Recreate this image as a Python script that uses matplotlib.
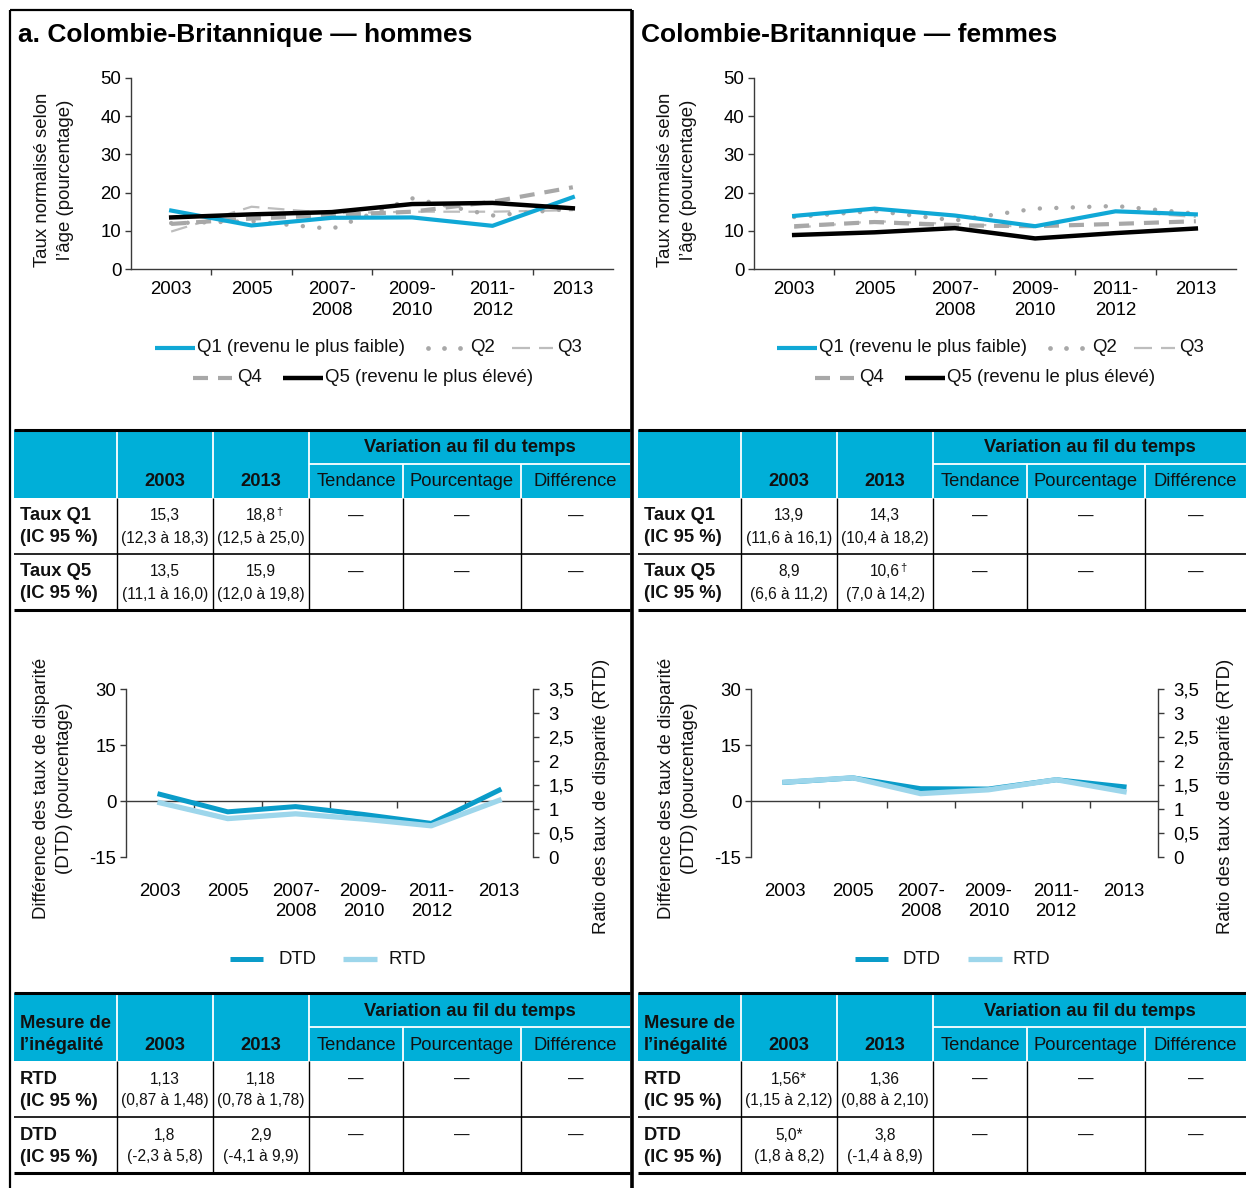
import numpy as np
import matplotlib
matplotlib.use('Agg')
import matplotlib.pyplot as plt
from matplotlib import font_manager
from matplotlib.lines import Line2D
from matplotlib.patches import Rectangle

# ---------------------------------------------------------------- data
periods = ['2003', '2005', '2007-\n2008', '2009-\n2010', '2011-\n2012', '2013']

men_q1 = [15.3, 11.4, 13.4, 13.5, 11.3, 18.8]
men_q2 = [12.0, 12.5, 10.5, 18.5, 14.0, 15.8]
men_q3 = [9.8, 16.3, 14.6, 15.0, 15.0, 15.4]
men_q4 = [11.8, 13.2, 14.1, 15.0, 17.6, 21.4]
men_q5 = [13.5, 14.3, 14.9, 17.0, 17.3, 15.9]

women_q1 = [13.9, 15.8, 14.0, 11.2, 15.1, 14.3]
women_q2 = [13.6, 15.2, 12.7, 15.8, 16.5, 14.5]
women_q3 = [10.8, 12.5, 11.8, 11.0, 15.2, 13.6]
women_q4 = [11.2, 12.3, 11.4, 11.2, 11.8, 12.5]
women_q5 = [8.9, 9.6, 10.7, 8.0, 9.4, 10.6]

men_dtd = [1.8, -2.9, -1.5, -3.6, -6.0, 2.9]
men_rtd = [1.13, 0.80, 0.90, 0.79, 0.65, 1.18]
women_dtd = [5.0, 6.2, 3.3, 3.2, 5.7, 3.8]
women_rtd = [1.56, 1.65, 1.32, 1.40, 1.61, 1.36]

rate_ticks = [0, 10, 20, 30, 40, 50]
dtd_ticks = [-15, 0, 15, 30]
rtd_ticks = [0, 0.5, 1, 1.5, 2, 2.5, 3, 3.5]
rtd_tick_labels = ['0', '0,5', '1', '1,5', '2', '2,5', '3', '3,5']

quintile_labels = ['Q1 (revenu le plus faible)', 'Q2', 'Q3', 'Q4',
                   'Q5 (revenu le plus élevé)']
gap_labels = ['DTD', 'RTD']

rate_rows = ['Taux Q1', 'Taux Q5']
gap_rows = ['RTD', 'DTD']
ci_label = '(IC 95 %)'
years_shown = ['2003', '2013']
change_title = 'Variation au fil du temps'
change_cols = ['Tendance', 'Pourcentage', 'Différence']
no_change = '—'

men_rate_2003 = ['15,3', '13,5']
men_rate_ci_2003 = ['(12,3 à 18,3)', '(11,1 à 16,0)']
men_rate_2013 = ['18,8', '15,9']
men_rate_ci_2013 = ['(12,5 à 25,0)', '(12,0 à 19,8)']
men_rate_flag_2013 = ['†', '']

women_rate_2003 = ['13,9', '8,9']
women_rate_ci_2003 = ['(11,6 à 16,1)', '(6,6 à 11,2)']
women_rate_2013 = ['14,3', '10,6']
women_rate_ci_2013 = ['(10,4 à 18,2)', '(7,0 à 14,2)']
women_rate_flag_2013 = ['', '†']

men_gap_2003 = ['1,13', '1,8']
men_gap_ci_2003 = ['(0,87 à 1,48)', '(-2,3 à 5,8)']
men_gap_2013 = ['1,18', '2,9']
men_gap_ci_2013 = ['(0,78 à 1,78)', '(-4,1 à 9,9)']

women_gap_2003 = ['1,56*', '5,0*']
women_gap_ci_2003 = ['(1,15 à 2,12)', '(1,8 à 8,2)']
women_gap_2013 = ['1,36', '3,8']
women_gap_ci_2013 = ['(0,88 à 2,10)', '(-1,4 à 8,9)']

# ---------------------------------------------------------------- style
W, H = 1246, 1188
plt.rcParams['axes.unicode_minus'] = False
plt.rcParams['font.family'] = ['Liberation Sans', 'DejaVu Sans']

_installed = {f.name for f in font_manager.fontManager.ttflist}
if 'Liberation Sans Narrow' in _installed:
    CHART_FONT = ['Liberation Sans Narrow', 'Liberation Sans', 'DejaVu Sans']
    CHART_SIZE = 16.3
    VALUE_FONT = CHART_FONT
    VALUE_SIZE = 13.4
else:
    CHART_FONT = ['Liberation Sans', 'DejaVu Sans']
    CHART_SIZE = 13.4
    VALUE_FONT = CHART_FONT
    VALUE_SIZE = 11.2
TABLE_FONT = ['Liberation Sans', 'DejaVu Sans']
TABLE_SIZE = 13.2

BLUE = '#10A8D6'
DTD_BLUE = '#0A9CC9'
RTD_BLUE = '#9DD6EB'
HEADER_BLUE = '#00AFD8'
GRAY = '#A8A8A8'
LIGHT_GRAY = '#BDBDBD'
AXIS_COLOR = '#3A3A3A'

fig = plt.figure(figsize=(W / 100, H / 100), dpi=100)


def px_rect(x0, y0, x1, y1):
    return [x0 / W, 1 - y1 / H, (x1 - x0) / W, (y1 - y0) / H]


# full-figure canvas in pixel units for frames, legends and tables
bg = fig.add_axes([0, 0, 1, 1], zorder=-5)
bg.set_xlim(0, W)
bg.set_ylim(H, 0)
bg.axis('off')


def ctext(x, y, s, **kw):
    kw.setdefault('family', CHART_FONT)
    kw.setdefault('fontsize', CHART_SIZE)
    kw.setdefault('color', '#111111')
    return bg.text(x, y, s, **kw)


# ---------------------------------------------------------------- frame
bg.plot([10, 10], [10, H], color='black', lw=1.6, solid_capstyle='butt')
bg.plot([10, 632], [10, 10], color='black', lw=1.6, solid_capstyle='butt')
bg.plot([632, 632], [10, H], color='black', lw=2.6, solid_capstyle='butt')

# ---------------------------------------------------------------- charts


def rate_chart(x0, series, title, title_x):
    q1, q2, q3, q4, q5 = series
    ax = fig.add_axes(px_rect(x0, 78, x0 + 482, 269))
    x = np.arange(len(periods))
    ax.plot(x, q3, color=LIGHT_GRAY, lw=1.6, dashes=(7.5, 3.8), zorder=2)
    ax.plot(x, q2, color=GRAY, lw=3.2, dashes=(0.01, 3.7),
            dash_capstyle='round', zorder=2)
    ax.plot(x, q4, color=GRAY, lw=3.0, dashes=(3.6, 2.4), zorder=2)
    ax.plot(x, q1, color=BLUE, lw=3.0, zorder=3)
    ax.plot(x, q5, color='black', lw=3.2, zorder=4)
    ax.set_xlim(-0.5, len(periods) - 0.5)
    ax.set_ylim(0, 50)
    ax.set_facecolor('none')
    for s in ('top', 'right'):
        ax.spines[s].set_visible(False)
    for s in ('left', 'bottom'):
        ax.spines[s].set_color(AXIS_COLOR)
        ax.spines[s].set_linewidth(1.0)
    ax.set_yticks(rate_ticks)
    ax.set_yticklabels([str(t) for t in rate_ticks], family=CHART_FONT,
                       fontsize=CHART_SIZE)
    ax.tick_params(axis='y', length=4, width=1, color=AXIS_COLOR, pad=3)
    ax.set_xticks(np.arange(0.5, len(periods) - 1))
    ax.set_xticklabels([])
    ax.tick_params(axis='x', which='major', length=4, width=1, color=AXIS_COLOR)
    ax.set_xticks(x, minor=True)
    ax.set_xticklabels(periods, minor=True, family=CHART_FONT,
                       fontsize=CHART_SIZE, linespacing=1.25)
    ax.tick_params(axis='x', which='minor', length=0, pad=9)
    bg.text(title_x, 35, title, fontsize=19, fontweight='bold',
            family=TABLE_FONT, va='center', ha='left')
    ctext(x0 - 77, 180, 'Taux normalisé selon\nl’âge (pourcentage)',
          rotation=90, ha='center', va='center', linespacing=1.45)


def rate_legend(dx):
    y1, y2 = 348, 378
    bg.plot([155 + dx, 195 + dx], [y1, y1], color=BLUE, lw=3.0,
            solid_capstyle='butt')
    ctext(197 + dx, y1, quintile_labels[0], va='center')
    bg.plot([428 + dx, 444 + dx, 460 + dx], [y1] * 3, ls='none', marker='o',
            ms=3.4, color=GRAY, mec='none')
    ctext(470 + dx, y1, quintile_labels[1], va='center')
    for a, b in ((512, 530), (539, 553)):
        bg.plot([a + dx, b + dx], [y1, y1], color=LIGHT_GRAY, lw=1.6,
                solid_capstyle='butt')
    ctext(557 + dx, y1, quintile_labels[2], va='center')
    for a, b in ((193, 208), (218, 232)):
        bg.plot([a + dx, b + dx], [y2, y2], color=GRAY, lw=3.0,
                solid_capstyle='butt')
    ctext(237 + dx, y2, quintile_labels[3], va='center')
    bg.plot([283 + dx, 323 + dx], [y2, y2], color='black', lw=3.2,
            solid_capstyle='butt')
    ctext(325 + dx, y2, quintile_labels[4], va='center')


def gap_chart(x0, dtd, rtd):
    ax = fig.add_axes(px_rect(x0, 689, x0 + 407, 857))
    x = np.arange(len(periods))
    ax.plot(x, dtd, color=DTD_BLUE, lw=3.6, zorder=3)
    ax.set_xlim(-0.5, len(periods) - 0.5)
    ax.set_ylim(-15, 30)
    ax.set_facecolor('none')
    ax.spines['top'].set_visible(False)
    ax.spines['right'].set_visible(False)
    ax.spines['bottom'].set_position(('data', 0))
    for s in ('left', 'bottom'):
        ax.spines[s].set_color(AXIS_COLOR)
        ax.spines[s].set_linewidth(1.0)
    ax.set_yticks(dtd_ticks)
    ax.set_yticklabels([str(t) for t in dtd_ticks], family=CHART_FONT,
                       fontsize=CHART_SIZE)
    ax.tick_params(axis='y', length=4, width=1, color=AXIS_COLOR, pad=3)
    ax.set_xticks(np.arange(0.5, len(periods) - 1))
    ax.set_xticklabels([])
    ax.tick_params(axis='x', which='major', length=5, width=1, color=AXIS_COLOR)
    ax.set_xticks(x, minor=True)
    ax.set_xticklabels(periods, minor=True, family=CHART_FONT,
                       fontsize=CHART_SIZE, linespacing=1.25)
    ax.tick_params(axis='x', which='minor', length=0, pad=59)

    ax2 = ax.twinx()
    ax2.plot(x, rtd, color=RTD_BLUE, lw=3.8, zorder=3)
    ax2.set_ylim(0, 3.5)
    for s in ('top', 'left', 'bottom'):
        ax2.spines[s].set_visible(False)
    ax2.spines['right'].set_color(AXIS_COLOR)
    ax2.spines['right'].set_linewidth(1.0)
    ax2.set_yticks(rtd_ticks)
    ax2.set_yticklabels(rtd_tick_labels, family=CHART_FONT, fontsize=CHART_SIZE)
    ax2.tick_params(axis='y', length=4, width=1, color=AXIS_COLOR, pad=7)

    ctext(x0 - 73, 788, 'Différence des taux de disparité\n(DTD) (pourcentage)',
          rotation=90, ha='center', va='center', linespacing=1.4)
    ctext(x0 + 475, 796, 'Ratio des taux de disparité (RTD)',
          rotation=90, ha='center', va='center')
    # legend
    y = 959
    bg.plot([x0 + 104, x0 + 137], [y, y], color=DTD_BLUE, lw=3.6,
            solid_capstyle='butt')
    ctext(x0 + 152, y, gap_labels[0], va='center')
    bg.plot([x0 + 217, x0 + 251], [y, y], color=RTD_BLUE, lw=3.8,
            solid_capstyle='butt')
    ctext(x0 + 262, y, gap_labels[1], va='center')


# ---------------------------------------------------------------- tables


def table(x0, top, corner, row_names, v03, c03, v13, c13, flags13):
    right = min(x0 + 616, W)
    cols = [x0, x0 + 103, x0 + 199, x0 + 295, x0 + 389, x0 + 507, right]
    mid, hb = top + 34, top + 68
    bg.add_patch(Rectangle((x0, top), right - x0, 68, facecolor=HEADER_BLUE,
                           edgecolor='none', zorder=1))
    wl = dict(color='white', lw=1.3, zorder=2, solid_capstyle='butt')
    for c in cols[1:4]:
        bg.plot([c, c], [top, hb], **wl)
    for c in cols[4:6]:
        bg.plot([c, c], [mid, hb], **wl)
    bg.plot([cols[3], right], [mid, mid], **wl)
    bl = dict(color='black', zorder=3, solid_capstyle='butt')
    bg.plot([x0, right], [top, top], lw=2.2, **bl)
    for c in cols[1:6]:
        bg.plot([c, c], [hb, hb + 112], lw=1.0, **bl)
    bg.plot([x0, right], [hb + 56, hb + 56], lw=1.2, **bl)
    bg.plot([x0, right], [hb + 112, hb + 112], lw=2.2, **bl)

    hdr = dict(family=TABLE_FONT, fontsize=TABLE_SIZE, va='center',
               ha='center', color='#111111', zorder=4)
    if corner:
        bg.text(x0 + 6, top + 30, corner[0], fontweight='bold',
                **{**hdr, 'ha': 'left'})
        bg.text(x0 + 6, top + 52, corner[1], fontweight='bold',
                **{**hdr, 'ha': 'left'})
    centers = [(cols[i] + cols[i + 1]) / 2 for i in range(6)]
    bg.text(centers[1], top + 52, years_shown[0], fontweight='bold', **hdr)
    bg.text(centers[2], top + 52, years_shown[1], fontweight='bold', **hdr)
    bg.text((cols[3] + right) / 2, top + 18, change_title, fontweight='bold',
            **hdr)
    for i, lab in enumerate(change_cols):
        bg.text(centers[3 + i], top + 52, lab, **hdr)

    val = dict(family=VALUE_FONT, fontsize=VALUE_SIZE, va='center',
               ha='center', color='#111111', zorder=4)
    for r in range(2):
        rt = hb + 56 * r
        bg.text(x0 + 6, rt + 18, row_names[r], fontweight='bold',
                **{**hdr, 'ha': 'left'})
        bg.text(x0 + 6, rt + 40, ci_label, fontweight='bold',
                **{**hdr, 'ha': 'left'})
        bg.text(centers[1], rt + 18, v03[r], **val)
        bg.text(centers[1], rt + 40, c03[r], **val)
        t = bg.text(centers[2], rt + 18, v13[r], **val)
        if flags13[r]:
            bg.annotate(flags13[r], xy=(1, 1), xycoords=t, xytext=(0.3, 1),
                        textcoords='offset points', ha='left', va='top',
                        fontsize=8, family=TABLE_FONT, color='#111111')
        bg.text(centers[2], rt + 40, c13[r], **val)
        for i in range(3):
            bg.text(centers[3 + i], rt + 18, no_change, **val)


# ---------------------------------------------------------------- assemble
rate_chart(131, (men_q1, men_q2, men_q3, men_q4, men_q5),
           'a. Colombie-Britannique — hommes', 18)
rate_chart(754, (women_q1, women_q2, women_q3, women_q4, women_q5),
           'Colombie-Britannique — femmes', 641)
rate_legend(0)
rate_legend(622)

table(14, 430, None, rate_rows, men_rate_2003, men_rate_ci_2003,
      men_rate_2013, men_rate_ci_2013, men_rate_flag_2013)
table(638, 430, None, rate_rows, women_rate_2003, women_rate_ci_2003,
      women_rate_2013, women_rate_ci_2013, women_rate_flag_2013)

gap_chart(126, men_dtd, men_rtd)
gap_chart(751, women_dtd, women_rtd)

corner = ('Mesure de', 'l’inégalité')
table(14, 993, corner, gap_rows, men_gap_2003, men_gap_ci_2003,
      men_gap_2013, men_gap_ci_2013, ['', ''])
table(638, 993, corner, gap_rows, women_gap_2003, women_gap_ci_2003,
      women_gap_2013, women_gap_ci_2013, ['', ''])

fig.savefig('out.png', dpi=100, facecolor='white')
